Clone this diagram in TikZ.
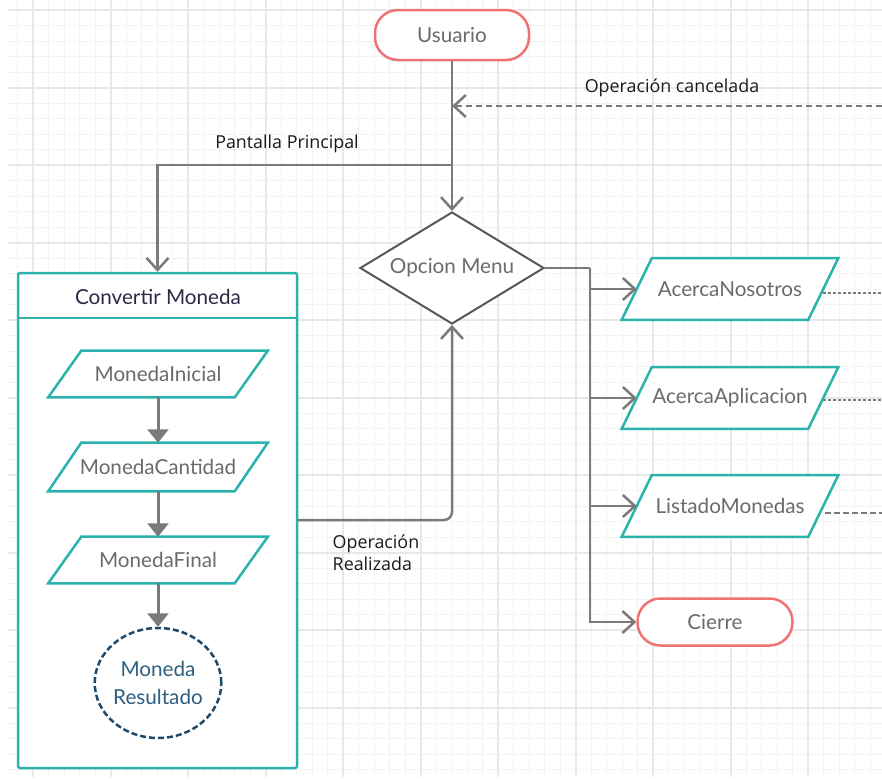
\documentclass[tikz,border=0pt]{standalone}
\usepackage{fontspec}
\setmainfont{Lato}
\newfontfamily\labelfont{Open Sans}
\usetikzlibrary{arrows.meta,shapes.geometric,calc}

% one screen pixel
\newdimen\pxu \pxu=0.75pt

\definecolor{gridminor}{HTML}{F3F3F3}
\definecolor{gridmajor}{HTML}{E8E8E8}
\definecolor{tealc}{HTML}{2AB3AD}
\definecolor{salmon}{HTML}{F07272}
\definecolor{connc}{HTML}{7A7A7A}
\definecolor{txtgrey}{HTML}{6B6B6B}
\definecolor{navy}{HTML}{1D4A6B}
\definecolor{navytxt}{HTML}{2E5F80}
\definecolor{dmd}{HTML}{585858}
\definecolor{titlec}{HTML}{2B2B45}
\definecolor{labelc}{HTML}{1A1A1A}

\pgfdeclarelayer{grid}
\pgfdeclarelayer{shapes}
\pgfsetlayers{grid,shapes,main}

\tikzset{
  nodefont/.style={font=\fontsize{15.5}{21}\selectfont},
  edgefont/.style={font=\labelfont\fontsize{13.4}{16.5}\selectfont, text=labelc},
  terminal/.style={draw=salmon, line width=2.5\pxu, fill=white, rounded corners=23\pxu,
    inner sep=0, text=txtgrey, nodefont},
  slanttext/.style={minimum width=186\pxu, minimum height=#1, inner sep=0, text=txtgrey, nodefont},
  paraline/.style={draw=tealc, line width=2.5\pxu, fill=white, line join=miter},
  conn/.style={draw=connc, line width=2.5\pxu},
  openarrow/.style={-{Straight Barb[length=9pt,width=16.5pt]}},
  flow/.style={draw=connc, line width=3\pxu, -{Triangle[length=10pt,width=15.5pt]}},
  dashconn/.style={conn, dash pattern=on 6\pxu off 4\pxu},
  dotconn/.style={draw=connc, line width=2\pxu, dash pattern=on 3\pxu off 2\pxu},
  shortdash/.style={draw=connc, line width=2.5\pxu, dash pattern=on 6\pxu off 3\pxu},
}

% parallelogram drawn around a text node, leaning right by 2*#2 pixels
\newcommand\slantbox[2]{%
  \begin{pgfonlayer}{shapes}
    \draw[paraline] ($(#1.south west)+(-#2,0)$) -- ($(#1.south east)+(-#2,0)$)
      -- ($(#1.north east)+(#2,0)$) -- ($(#1.north west)+(#2,0)$) -- cycle;
  \end{pgfonlayer}}

\begin{document}
\begin{tikzpicture}[x=0.75pt,y=-0.75pt]
\useasboundingbox (0,0) rectangle (882,779);

% background grid
\begin{pgfonlayer}{grid}
  \fill[white] (0,0) rectangle (882,779);
  \foreach \x in {17.5,33,...,882} \draw[gridminor, line width=1\pxu] (\x,0) -- (\x,777);
  \foreach \y in {10,25.5,...,777} \draw[gridminor, line width=1\pxu] (8,\y) -- (882,\y);
  \foreach \x in {33,110.5,...,882} \draw[gridmajor, line width=2\pxu] (\x,0) -- (\x,777);
  \foreach \y in {10,87.5,...,777} \draw[gridmajor, line width=2\pxu] (8,\y) -- (882,\y);
\end{pgfonlayer}

% container for the conversion steps
\begin{pgfonlayer}{shapes}
  \node[draw=tealc, line width=2.5\pxu, fill=white, rounded corners=2\pxu,
        minimum width=279\pxu, minimum height=495\pxu, inner sep=0] (conv) at (157.5,520.5) {};
  \draw[draw=tealc, line width=2.5\pxu] ([yshift=-46\pxu]conv.north west) -- ([yshift=-46\pxu]conv.north east);
\end{pgfonlayer}
\node[nodefont, text=titlec] (ctitle) at (158,297) {Convertir Moneda};

% main nodes
\node[terminal, minimum width=154\pxu, minimum height=50\pxu] (usr) at (452,35) {Usuario};
\node[diamond, aspect=1.64, draw=dmd, line width=2\pxu, fill=white, inner sep=0,
      minimum width=184\pxu, minimum height=112\pxu, text=txtgrey, nodefont] (menu) at (452,268) {Opcion Menu};

\node[slanttext=61\pxu] (an) at (730,289) {AcercaNosotros};
\node[slanttext=61\pxu] (aa) at (730,398) {AcercaAplicacion};
\node[slanttext=61\pxu] (lm) at (730,506) {ListadoMonedas};
\slantbox{an}{15}
\slantbox{aa}{15}
\slantbox{lm}{15}
\node[terminal, minimum width=155\pxu, minimum height=47\pxu] (cierre) at (715,622) {Cierre};

\node[slanttext=46\pxu] (mi) at (158,374) {MonedaInicial};
\node[slanttext=48\pxu] (mc) at (158,467) {MonedaCantidad};
\node[slanttext=46\pxu] (mf) at (158,560) {MonedaFinal};
\slantbox{mi}{16.5}
\slantbox{mc}{16.5}
\slantbox{mf}{16.5}
\node[ellipse, draw=navy, line width=2.5\pxu, dash pattern=on 6\pxu off 3\pxu, fill=white,
      minimum width=125\pxu, minimum height=110\pxu, inner sep=0, align=center,
      text=navytxt, nodefont] (res) at (158,683) {Moneda\\Resultado};

% junction points and free ends
\coordinate (jc) at (452,106);
\coordinate (jp) at (452,165);
\coordinate (ce) at (882,106);
\coordinate (rz) at (297,520);
\coordinate (tk) at (590,268);
\coordinate (dN) at (882,293);
\coordinate (dA) at (882,400);
\coordinate (dL) at (882,513);

% connectors
\draw[conn, openarrow] (usr.south) -- (menu.north);
\draw[dashconn, openarrow] (ce) -- (jc);
\draw[conn, openarrow] (jp) -| (conv.north);
\draw[conn, openarrow, rounded corners=8\pxu] (rz) -| (menu.south);
\draw[conn] (menu.east) -- (tk);
\draw[conn, openarrow] (tk) |- (an.west);
\draw[conn, openarrow] (tk) |- (aa.west);
\draw[conn, openarrow] (tk) |- (lm.west);
\draw[conn, openarrow] (tk) |- (cierre.west);

\draw[dotconn] (an.east |- dN) -- (dN);
\draw[dotconn] (aa.east |- dA) -- (dA);
\draw[shortdash] ([xshift=2\pxu]lm.east |- dL) -- (dL);

\draw[flow] (mi.south) -- (mc.north);
\draw[flow] (mc.south) -- (mf.north);
\draw[flow] (mf.south) -- (res.north);

% connector labels
\node[edgefont] (lcancel) at (672,88) {Operación cancelada};
\node[edgefont] (lpant) at (287,144) {Pantalla Principal};
\node[edgefont, align=left, anchor=north west] (lreal) at (328,530) {Operación\\Realizada};
\end{tikzpicture}
\end{document}
